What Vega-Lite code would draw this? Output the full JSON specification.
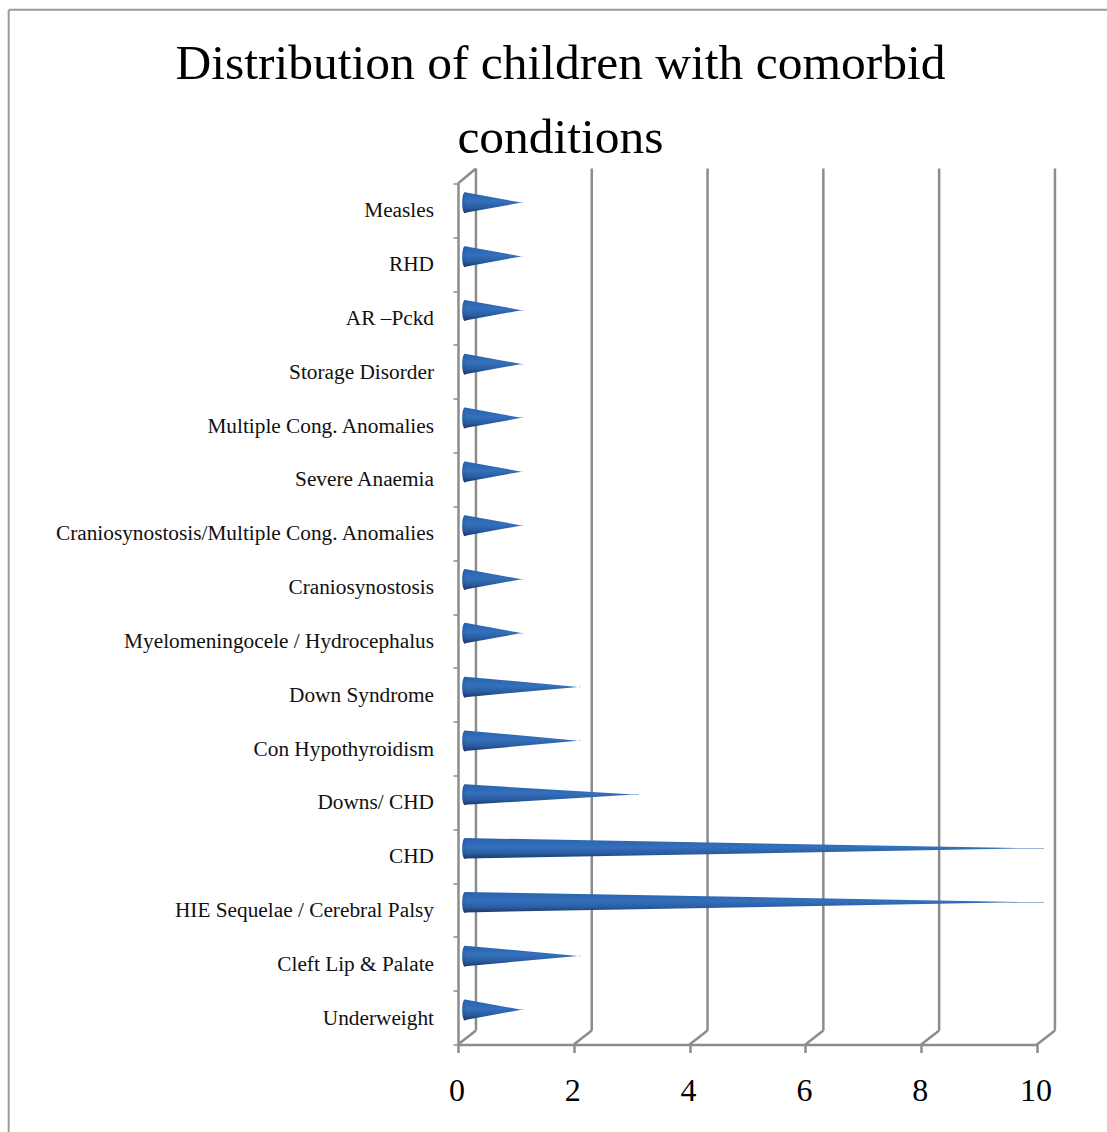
{
  "$schema": "https://vega.github.io/schema/vega-lite/v6.json",
  "width": 579,
  "height": 861,
  "autosize": {"type": "none"},
  "padding": {"left": 458, "top": 183.5, "right": 70, "bottom": 87.5},
  "background": "white",
  "config": {"view": {"stroke": null}},
  "title": {
    "text": ["Distribution of children with comorbid", "conditions"],
    "frame": "group",
    "anchor": "middle",
    "dx": -187,
    "offset": -155,
    "font": "Liberation Serif",
    "fontSize": 49.5,
    "fontWeight": "normal",
    "color": "#000000",
    "lineHeight": 74
  },
  "datasets": {
    "conditions": [
      {"condition": "Underweight", "children": 1},
      {"condition": "Cleft Lip & Palate", "children": 2},
      {"condition": "HIE Sequelae / Cerebral Palsy", "children": 10},
      {"condition": "CHD", "children": 10},
      {"condition": "Downs/ CHD", "children": 3},
      {"condition": "Con Hypothyroidism", "children": 2},
      {"condition": "Down Syndrome", "children": 2},
      {"condition": "Myelomeningocele / Hydrocephalus", "children": 1},
      {"condition": "Craniosynostosis", "children": 1},
      {"condition": "Craniosynostosis/Multiple Cong. Anomalies", "children": 1},
      {"condition": "Severe Anaemia", "children": 1},
      {"condition": "Multiple Cong. Anomalies", "children": 1},
      {"condition": "Storage Disorder", "children": 1},
      {"condition": "AR –Pckd", "children": 1},
      {"condition": "RHD", "children": 1},
      {"condition": "Measles", "children": 1}
    ],
    "ticks": [{"tick": 0}, {"tick": 2}, {"tick": 4}, {"tick": 6}, {"tick": 8}, {"tick": 10}]
  },
  "layer": [
    {
      "description": "Chart area border, left and top edges",
      "data": {"values": [{"x": -7.76, "x2": 11.3, "y": 19.23, "y2": 19.23}, {"x": -7.76, "x2": -7.76, "y": 19.23, "y2": -2}]},
      "mark": {"type": "rule", "color": "#9a9a9a", "strokeWidth": 2, "clip": false},
      "encoding": {
        "x": {"field": "x", "type": "quantitative", "scale": {"domain": [0, 10], "nice": false}, "axis": {
          "values": [0, 2, 4, 6, 8, 10], "title": null, "grid": false, "format": "d",
          "domainColor": "#8c8c8c", "domainWidth": 2.5, "tickColor": "#8c8c8c", "tickWidth": 2.5, "tickSize": 8,
          "labelFont": "Liberation Serif", "labelFontSize": 32, "labelColor": "#000000", "labelPadding": 23, "labelOffset": -1.5, "labelFlush": false, "labelOverlap": false
        }},
        "x2": {"field": "x2"},
        "y": {"field": "y", "type": "quantitative", "scale": {"domain": [0, 16], "nice": false}, "axis": {
          "values": [0, 1, 2, 3, 4, 5, 6, 7, 8, 9, 10, 11, 12, 13, 14, 15, 16], "title": null, "grid": false, "labels": false,
          "domainColor": "#8c8c8c", "domainWidth": 2.5, "tickColor": "#8c8c8c", "tickWidth": 1.5, "tickSize": 5
        }},
        "y2": {"field": "y2"}
      }
    },
    {
      "description": "Back wall gridlines",
      "data": {"name": "ticks"},
      "transform": [
        {"calculate": "datum.tick + 0.31", "as": "back"},
        {"calculate": "0.26", "as": "wallFoot"},
        {"calculate": "16.28", "as": "wallTop"}
      ],
      "mark": {"type": "rule", "color": "#8c8c8c", "strokeWidth": 2.5, "clip": false},
      "encoding": {
        "x": {"field": "back", "type": "quantitative"},
        "y": {"field": "wallFoot", "type": "quantitative"},
        "y2": {"field": "wallTop"}
      }
    },
    {
      "description": "Floor edges running from each tick back to the wall",
      "data": {"name": "ticks"},
      "transform": [
        {"calculate": "datum.tick + 0.31", "as": "back"},
        {"calculate": "0", "as": "front"},
        {"calculate": "0.26", "as": "wallFoot"}
      ],
      "mark": {"type": "rule", "color": "#8c8c8c", "strokeWidth": 2.5, "clip": false},
      "encoding": {
        "x": {"field": "tick", "type": "quantitative"},
        "x2": {"field": "back"},
        "y": {"field": "front", "type": "quantitative"},
        "y2": {"field": "wallFoot"}
      }
    },
    {
      "description": "Top edge of the side wall",
      "data": {"values": [{"x": 0, "x2": 0.31, "y": 16, "y2": 16.28}]},
      "mark": {"type": "rule", "color": "#8c8c8c", "strokeWidth": 2.5, "clip": false},
      "encoding": {
        "x": {"field": "x", "type": "quantitative"},
        "x2": {"field": "x2"},
        "y": {"field": "y", "type": "quantitative"},
        "y2": {"field": "y2"}
      }
    },
    {
      "description": "Category labels on the side wall",
      "data": {"name": "conditions"},
      "transform": [
        {"window": [{"op": "row_number", "as": "rank"}]},
        {"calculate": "datum.rank - 0.5", "as": "mid"},
        {"calculate": "0", "as": "origin"}
      ],
      "mark": {"type": "text", "align": "right", "baseline": "middle", "xOffset": -24, "yOffset": 1, "font": "Liberation Serif", "fontSize": 21.3, "color": "#111111", "clip": false},
      "encoding": {
        "x": {"field": "origin", "type": "quantitative"},
        "y": {"field": "mid", "type": "quantitative"},
        "text": {"field": "condition"}
      }
    },
    {
      "description": "Elliptical cone bases",
      "data": {"name": "conditions"},
      "transform": [
        {"window": [{"op": "row_number", "as": "rank"}]},
        {"calculate": "datum.rank - 0.35", "as": "axisY"},
        {"calculate": "0", "as": "base"}
      ],
      "mark": {
        "type": "point",
        "filled": true,
        "opacity": 1,
        "size": 441,
        "xOffset": 7,
        "yOffset": 0.5,
        "clip": false,
        "shape": "M0,-1 C-0.36,-1 -0.36,1 0,1 C0.36,1 0.36,-1 0,-1 Z",
        "fill": {
          "x1": 0, "y1": 0, "x2": 0, "y2": 1, "gradient": "linear",
          "stops": [
            {"offset": 0, "color": "#255ba4"},
            {"offset": 0.45, "color": "#2f69b3"},
            {"offset": 0.75, "color": "#275593"},
            {"offset": 1, "color": "#183663"}
          ]
        }
      },
      "encoding": {
        "x": {"field": "base", "type": "quantitative"},
        "y": {"field": "axisY", "type": "quantitative"}
      }
    },
    {
      "description": "Cone bodies tapering from the base to the value",
      "data": {"name": "conditions"},
      "transform": [
        {"window": [{"op": "row_number", "as": "rank"}]},
        {"calculate": "datum.rank - 0.35", "as": "axisY"},
        {"calculate": "0", "as": "base"},
        {"fold": ["base", "children"], "as": ["end", "reach"]},
        {"calculate": "datum.axisY + (datum.end === 'base' ? 0.195 : 0)", "as": "upper"},
        {"calculate": "datum.axisY - (datum.end === 'base' ? 0.195 : 0)", "as": "lower"}
      ],
      "mark": {
        "type": "area",
        "xOffset": 7,
        "yOffset": 0.5,
        "clip": false,
        "fill": {
          "x1": 0, "y1": 0, "x2": 0, "y2": 1, "gradient": "linear",
          "stops": [
            {"offset": 0, "color": "#2a62ad"},
            {"offset": 0.45, "color": "#3470bc"},
            {"offset": 0.75, "color": "#2a5c9f"},
            {"offset": 1, "color": "#193a6c"}
          ]
        }
      },
      "encoding": {
        "x": {"field": "reach", "type": "quantitative"},
        "y": {"field": "upper", "type": "quantitative", "stack": null},
        "y2": {"field": "lower"},
        "detail": {"field": "condition"}
      }
    }
  ]
}
